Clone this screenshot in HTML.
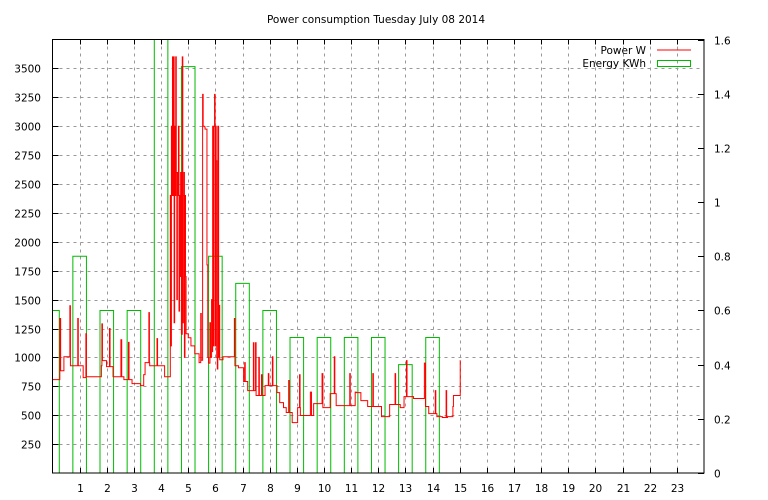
<!DOCTYPE html>
<html><head><meta charset="utf-8"><style>
html,body{margin:0;padding:0;background:#fff;}
svg{display:block;font-family:"DejaVu Sans","Liberation Sans",sans-serif;font-size:10.5px;}
</style></head><body>
<svg id="chart" width="768" height="500" viewBox="0 0 768 500" xmlns="http://www.w3.org/2000/svg">
<rect x="0" y="0" width="768" height="500" fill="#fff"/>
<text x="376" y="23" text-anchor="middle">Power consumption Tuesday July 08 2014</text>
<g id="grid"></g>
<g id="bars"></g>
<g id="line"></g>
<rect x="52.5" y="39.5" width="651.5" height="433.5" fill="none" stroke="#000" stroke-width="1"/>
<g id="axes"></g>
<g>
<text x="646" y="54" text-anchor="end">Power W</text>
<line x1="657" y1="50" x2="691" y2="50" stroke="#f00" stroke-width="1"/>
<text x="646" y="67" text-anchor="end">Energy KWh</text>
<rect x="657.5" y="60.5" width="33" height="6" fill="none" stroke="#0b0" stroke-width="1"/>
</g>
</svg>
<script>
const hourTicks=[1,2,3,4,5,6,7,8,9,10,11,12,13,14,15,16,17,18,19,20,21,22,23];
const powerTicks=[250,500,750,1000,1250,1500,1750,2000,2250,2500,2750,3000,3250,3500];
const energyTicks=[0,0.2,0.4,0.6,0.8,1,1.2,1.4,1.6];
const energyHours=[0,1,2,3,4,5,6,7,8,9,10,11,12,13,14];
const energyKwh=[0.6,0.8,0.6,0.6,1.8,1.5,0.8,0.7,0.6,0.5,0.5,0.5,0.5,0.4,0.5];
const powerTimes=[0,0.27,0.30,0.42,0.64,0.66,0.93,0.95,1.13,1.23,1.25,1.80,1.82,1.84,1.99,2.10,2.12,2.23,2.52,2.55,2.63,2.80,2.82,2.93,3.24,3.36,3.41,3.55,3.57,3.58,3.85,3.87,4.13,4.34,4.36,4.38,4.40,4.42,4.44,4.46,4.48,4.50,4.52,4.54,4.56,4.58,4.60,4.62,4.64,4.66,4.68,4.70,4.72,4.75,4.78,4.80,4.82,4.84,4.86,4.88,4.90,4.92,5.00,5.10,5.24,5.40,5.46,5.48,5.53,5.55,5.59,5.62,5.69,5.72,5.75,5.80,5.82,5.86,5.88,5.90,5.92,5.94,5.97,5.99,6.01,6.03,6.05,6.07,6.09,6.12,6.14,6.16,6.28,6.70,6.72,6.85,7.04,7.08,7.10,7.19,7.40,7.42,7.48,7.50,7.60,7.62,7.70,7.72,7.83,7.95,7.97,8.10,8.12,8.27,8.37,8.51,8.61,8.70,8.72,8.83,9.03,9.10,9.12,9.13,9.50,9.54,9.62,9.93,9.96,10.23,10.38,10.40,10.45,10.95,10.97,11.15,11.19,11.36,11.61,11.80,11.82,12.12,12.42,12.62,12.64,12.81,12.95,13.04,13.06,13.30,13.70,13.74,13.86,14.10,14.12,14.16,14.36,14.50,14.52,14.55,14.75,14.77,15.02];
const powerWatts=[808,1336,885,1006,1447,928,1336,928,825,1205,833,928,1290,972,920,1250,920,833,1153,833,808,1130,808,773,756,851,955,1387,955,928,1162,928,833,2400,1100,3000,2400,3600,2400,3600,1300,3000,2400,3600,2600,1500,2600,2400,3000,1400,2400,1700,2600,1200,3600,1300,2400,2600,1000,2400,1700,1205,1170,1100,1032,955,1380,975,3275,3000,2995,2975,1800,1000,950,1300,1000,1500,1050,3000,1100,3000,3275,1100,3000,2700,1000,900,3000,1000,1450,980,1006,1336,928,911,791,955,791,713,1127,713,1127,670,1000,670,850,670,756,860,756,1006,756,695,609,566,523,800,523,436,566,850,566,497,700,497,600,860,566,687,1006,687,583,860,583,700,695,626,575,860,575,488,592,860,592,566,661,972,661,644,950,575,514,713,514,488,480,713,480,488,575,670,972];

const L=52.5,R=704,T=39.5,B=473;
const X=h=>L+(R-L)*h/24;
const Y=w=>B-(B-T)*w/3750;
const Y2=k=>B-(B-T)*k/1.6;
const NS="http://www.w3.org/2000/svg";
function mk(tag,attrs,parent){const e=document.createElementNS(NS,tag);for(const k in attrs)e.setAttribute(k,attrs[k]);parent.appendChild(e);return e;}
const grid=document.getElementById('grid'),axes=document.getElementById('axes'),bars=document.getElementById('bars'),line=document.getElementById('line');
powerTicks.forEach(v=>{const y=Math.round(Y(v))+0.5;
 const g=mk('line',{x1:L,x2:R,y1:y,y2:y,stroke:'#999','stroke-dasharray':'3,4','stroke-width':1},grid);
 
 
 const t=mk('line',{x1:L,x2:L+6,y1:y,y2:y,stroke:'#000'},axes);
 
 
 const l=mk('text',{x:41,y:y+4,'text-anchor':'end'},axes);l.textContent=v;
 
 
});
energyTicks.forEach(v=>{const y=Math.round(Y2(v))+0.5;
 const t=mk('line',{x1:R-6,x2:R,y1:y,y2:y,stroke:'#000'},axes);
 
 
 const l=mk('text',{x:714,y:y+4},axes);l.textContent=v;
 
 
});
hourTicks.forEach(h=>{const x=Math.round(X(h))+0.5;
 const g=mk('line',{x1:x,x2:x,y1:T,y2:B,stroke:'#999','stroke-dasharray':'3,4','stroke-width':1},grid);
 
 
 const t=mk('line',{x1:x,x2:x,y1:B-5,y2:B,stroke:'#000'},axes);
 
 
 const t2=mk('line',{x1:x,x2:x,y1:T,y2:T+5,stroke:'#000'},axes);
 
 
 const l=mk('text',{x:x,y:492,'text-anchor':'middle'},axes);l.textContent=h;
 
 
});
energyHours.forEach((h,i)=>{
 const x0=Math.max(L,X(h-0.25)),x1=X(h+0.25);const y=Math.max(T-5,Y2(energyKwh[i]));
 const b=mk('path',{d:`M${x0},${B}V${y}H${x1}V${B}`,fill:'none',stroke:'#0b0','stroke-width':1},bars);
 
 
});
(function(){
 const cp=mk('clipPath',{id:'clip'},document.getElementById('chart'));mk('rect',{x:L,y:T,width:R-L,height:B-T},cp);
 bars.setAttribute('clip-path','url(#clip)');
 let d=`M${X(powerTimes[0])},${Y(powerWatts[0])}`;
 for(let i=1;i<powerTimes.length;i++){d+=`H${X(powerTimes[i]).toFixed(2)}V${Y(powerWatts[i]).toFixed(2)}`;}
 d+=`H${X(powerTimes[powerTimes.length-1]+0.01).toFixed(2)}`;
 const p=mk('path',{d:d,fill:'none',stroke:'#f00','stroke-width':1},line);
 
 
})();
</script>
</body></html>
